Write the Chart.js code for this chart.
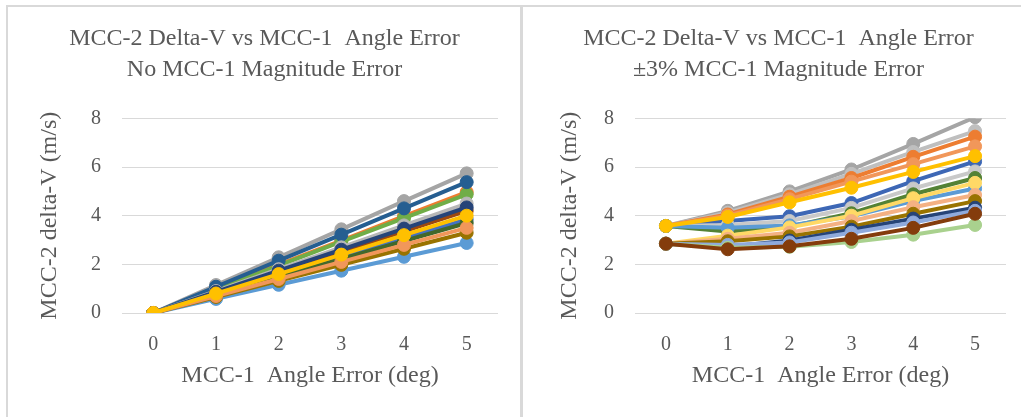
<!DOCTYPE html>
<html>
<head>
<meta charset="utf-8">
<script src="https://cdn.jsdelivr.net/npm/chart.js@4.4.3/dist/chart.umd.min.js"></script>
<style>
  html, body { margin: 0; padding: 0; background: #fff; width: 1021px; height: 417px; overflow: hidden; }
  .rule { position: absolute; background: #d9d9d9; }
  .box { position: absolute; top: 7px; height: 405px; }
  #left { left: 8px; width: 512px; }
  #right { left: 523px; width: 498px; }
</style>
</head>
<body>
<div class="rule" style="left:6px;top:5px;width:1015px;height:2px"></div>
<div class="rule" style="left:6px;top:5px;width:2px;height:412px"></div>
<div class="rule" style="left:520px;top:5px;width:3px;height:412px"></div>
<div class="box" id="left"><canvas id="chartLeft"></canvas></div>
<div class="box" id="right"><canvas id="chartRight"></canvas></div>
<script>
// x categories (MCC-1 angle error, deg)
const angleErrors = ['0', '1', '2', '3', '4', '5'];
const yTickMin = 0, yTickMax = 8, yTickStep = 2;

// Left panel: no MCC-1 magnitude error (listed in drawing order, first = back)
const noMagErrSeries = [
  [0, 1.15, 2.29, 3.44, 4.60, 5.74],
  [0, 0.99, 1.99, 2.98, 3.98, 4.97],
  [0, 0.58, 1.16, 1.74, 2.31, 2.88],
  [0, 0.77, 1.53, 2.30, 3.08, 3.85],
  [0, 0.97, 1.95, 2.93, 3.90, 4.88],
  [0, 1.08, 2.15, 3.22, 4.30, 5.38],
  [0, 0.84, 1.68, 2.52, 3.36, 4.20],
  [0, 0.90, 1.80, 2.70, 3.60, 4.50],
  [0, 0.66, 1.32, 1.98, 2.64, 3.30],
  [0, 0.87, 1.74, 2.60, 3.47, 4.34],
  [0, 0.74, 1.48, 2.22, 2.96, 3.70],
  [0, 0.70, 1.40, 2.10, 2.80, 3.50],
  [0, 0.80, 1.60, 2.40, 3.20, 4.00]
];
const noMagErrColors = ['#A5A5A5', '#ED7D31', '#5B9BD5', '#4472C4', '#70AD47', '#255E91', '#9E480E',
  '#B7B7B7', '#997300', '#264478', '#43682B', '#F1975A', '#FFC000'];

// Right panel: +/-3% MCC-1 magnitude error
const magErrSeries = [
  [3.58, 4.20, 5.00, 5.90, 6.95, 8.05],
  [3.58, 4.12, 4.88, 5.72, 6.62, 7.48],
  [3.58, 4.05, 4.78, 5.55, 6.42, 7.25],
  [3.58, 4.00, 4.68, 5.40, 6.12, 6.85],
  [3.58, 3.78, 3.98, 4.52, 5.42, 6.23],
  [3.58, 3.62, 3.78, 4.32, 5.12, 5.82],
  [3.58, 3.35, 3.55, 4.10, 4.88, 5.55],
  [3.58, 3.50, 3.60, 3.98, 4.60, 5.12],
  [2.85, 3.18, 3.52, 4.00, 4.72, 5.35],
  [2.85, 3.05, 3.30, 3.78, 4.35, 4.85],
  [2.85, 2.95, 3.15, 3.55, 4.08, 4.60],
  [2.85, 2.72, 2.98, 3.42, 3.88, 4.33],
  [2.85, 2.80, 2.90, 3.30, 3.72, 4.20],
  [2.85, 2.68, 2.72, 2.92, 3.22, 3.62],
  [3.58, 3.95, 4.55, 5.15, 5.80, 6.45],
  [2.85, 2.62, 2.74, 3.05, 3.50, 4.08]
];
const magErrColors = ['#A5A5A5', '#BFBFBF', '#ED7D31', '#F1975A', '#3D67B5', '#C9C9C9', '#548235', '#5B9BD5',
  '#FFD966', '#F4B183', '#997300', '#264478', '#8FAADC', '#A9D18E', '#FFC000', '#843C0C'];

const FONT = "'Liberation Serif', 'Times New Roman', serif";
const TEXT = '#595959';

function makeChart(canvasId, titleLines, series, colors, pad, yWidth) {
  // Chart.js paints dataset 0 on top, so feed the list back to front
  const datasets = series.map((vals, i) => ({
    data: vals,
    borderColor: colors[i],
    backgroundColor: colors[i],
    pointBackgroundColor: colors[i],
    pointBorderColor: colors[i],
    borderWidth: 4,
    pointRadius: 6.5,
    pointBorderWidth: 1,
    tension: 0
  })).reverse();

  return new Chart(document.getElementById(canvasId), {
    type: 'line',
    data: { labels: angleErrors, datasets },
    options: {
      responsive: true, maintainAspectRatio: false, animation: false,
      layout: { padding: pad },
      plugins: {
        legend: { display: false },
        tooltip: { enabled: false },
        title: {
          display: true, text: titleLines, color: TEXT,
          font: { family: FONT, size: 24, weight: 'normal', lineHeight: 1.3 },
          padding: { top: 16, bottom: 33 }
        }
      },
      scales: {
        x: {
          offset: true,
          grid: { display: false, drawTicks: false },
          border: { display: false },
          ticks: { color: TEXT, font: { family: FONT, size: 20 }, padding: 20 },
          title: { display: true, text: 'MCC-1  Angle Error (deg)', color: TEXT, font: { family: FONT, size: 24 } },
          afterFit: s => { s.height = 81; }
        },
        y: {
          min: yTickMin, max: yTickMax,
          grid: { color: '#d9d9d9', lineWidth: 1, drawTicks: false },
          border: { display: false },
          ticks: { stepSize: yTickStep, color: TEXT, font: { family: FONT, size: 20 }, padding: 21 },
          title: { display: true, text: 'MCC-2 delta-V (m/s)', color: TEXT, font: { family: FONT, size: 24 } },
          afterFit: s => { s.width = yWidth; }
        }
      }
    }
  });
}

makeChart('chartLeft', ['MCC-2 Delta-V vs MCC-1  Angle Error', 'No MCC-1 Magnitude Error'],
  noMagErrSeries, noMagErrColors, { left: 23, right: 22, top: 0, bottom: 18 }, 91);
makeChart('chartRight', ['MCC-2 Delta-V vs MCC-1  Angle Error', '\u00B13% MCC-1 Magnitude Error'],
  magErrSeries, magErrColors, { left: 28, right: 15, top: 0, bottom: 18 }, 84);
</script>
</body>
</html>
